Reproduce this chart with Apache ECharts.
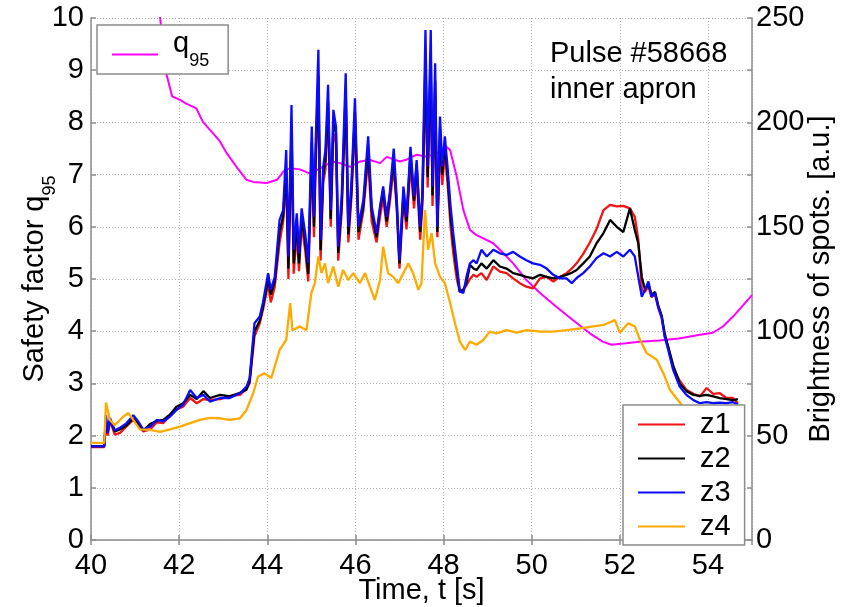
<!DOCTYPE html>
<html>
<head>
<meta charset="utf-8">
<title>Pulse #58668 – q95 and spot brightness</title>
<script src="https://cdn.jsdelivr.net/npm/echarts@6.0.0/dist/echarts.min.js"></script>
<style>
  html, body { margin: 0; padding: 0; background: #fff; }
  #chart { width: 845px; height: 607px; }
</style>
</head>
<body>
<div id="chart"></div>
<script>
// Time base shared by the z1..z3 brightness traces [s]
const tZ = [40.00,40.30,40.34,40.38,40.43,40.54,40.66,40.81,40.96,41.07,
  41.19,41.34,41.49,41.64,41.79,41.94,42.09,42.25,42.40,42.55,
  42.70,42.93,43.15,43.38,43.53,43.60,43.71,43.83,43.90,44.02,
  44.08,44.17,44.28,44.36,44.43,44.48,44.55,44.60,44.67,44.72,
  44.78,44.86,44.93,45.01,45.06,45.10,45.16,45.21,45.27,45.32,
  45.38,45.44,45.50,45.56,45.61,45.69,45.78,45.84,45.91,45.99,
  46.07,46.18,46.29,46.37,46.48,46.56,46.63,46.71,46.78,46.87,
  46.94,47.00,47.09,47.16,47.25,47.33,47.39,47.47,47.52,47.59,
  47.64,47.71,47.75,47.81,47.86,47.92,47.97,48.03,48.09,48.16,
  48.22,48.30,48.37,48.45,48.52,48.60,48.68,48.75,48.86,48.98,
  49.13,49.28,49.43,49.58,49.73,49.88,50.03,50.19,50.34,50.49,
  50.64,50.79,50.91,51.02,51.17,51.32,51.47,51.63,51.78,51.93,
  52.08,52.23,52.34,52.42,52.50,52.57,52.65,52.72,52.80,52.87,
  52.95,53.02,53.10,53.21,53.36,53.51,53.67,53.82,53.97,54.12,
  54.27,54.42,54.57,54.68];

// Brightness of spots, zone 1 [a.u.]
const z1 = [44.5,44.5,56.3,50.0,57.0,50.5,51.3,54.5,57.5,55.0,
  52.0,53.0,56.3,56.0,59.5,62.5,63.8,68.0,65.5,67.5,
  67.0,67.5,69.0,69.5,72.5,75.0,97.5,103.8,110.0,122.5,
  113.8,121.3,142.5,152.5,172.5,125.0,192.5,127.5,147.5,128.8,
  151.3,138.8,123.8,185.0,145.0,180.0,215.0,133.8,171.3,177.5,
  205.0,150.0,195.0,190.0,133.8,157.5,210.0,142.5,163.8,200.0,
  143.8,157.5,182.5,152.5,142.5,155.0,163.8,150.0,161.3,178.8,
  157.5,130.0,162.5,148.8,180.0,158.8,175.0,143.8,160.0,220.0,
  168.8,225.0,160.0,212.5,145.0,190.0,170.0,185.0,171.3,150.0,
  137.5,125.0,118.8,119.8,122.0,125.0,127.0,126.0,127.8,124.5,
  131.0,128.5,127.8,125.3,123.0,121.3,120.5,125.3,126.0,123.8,
  126.0,127.8,130.0,132.5,137.0,142.5,148.8,158.0,160.5,159.8,
  160.0,158.8,154.8,143.8,119.8,118.8,121.3,116.3,117.5,111.3,
  106.3,97.5,92.0,82.5,76.3,72.0,70.0,68.8,72.8,70.0,
  70.3,68.0,68.0,65.5];

// Brightness of spots, zone 2 [a.u.]
const z2 = [45.0,45.0,57.5,52.5,57.5,52.0,53.0,55.0,58.3,55.5,
  52.5,55.5,57.0,57.5,60.0,63.8,65.5,69.5,67.5,71.3,
  68.0,69.5,68.8,70.5,72.0,76.3,100.0,105.0,111.3,125.0,
  117.5,123.8,147.5,155.0,177.5,130.0,197.5,132.5,152.5,132.5,
  155.0,142.5,127.5,190.0,150.0,185.0,222.5,138.8,175.0,182.5,
  210.0,153.8,200.0,195.0,137.5,161.3,215.0,146.3,167.5,205.0,
  147.5,160.0,187.5,157.5,145.0,158.8,167.5,152.5,165.0,182.5,
  160.0,132.5,166.3,152.5,185.0,162.5,180.0,147.5,163.8,230.0,
  173.8,232.5,165.0,220.0,147.5,197.5,175.0,190.0,175.0,155.0,
  142.5,128.8,118.8,120.0,123.0,131.8,130.0,129.3,132.5,130.0,
  134.0,131.0,130.0,127.8,127.0,126.0,125.3,127.0,126.0,125.3,
  126.0,127.0,128.0,129.3,132.5,135.8,142.0,147.0,153.3,150.0,
  147.5,158.8,148.5,142.0,126.0,120.0,122.5,117.5,118.8,112.5,
  107.5,98.8,92.5,83.8,75.0,71.3,69.5,69.0,69.5,68.8,
  68.0,67.5,67.0,67.5];

// Brightness of spots, zone 3 [a.u.]
const z3 = [44.8,44.8,59.8,51.3,58.5,52.5,53.8,56.0,59.8,56.8,
  52.8,54.3,57.5,56.8,59.0,62.3,64.8,71.8,68.0,69.5,
  66.3,68.0,68.0,70.3,73.5,77.5,103.8,107.0,113.5,127.8,
  119.8,126.0,153.3,158.0,186.8,135.8,208.3,139.0,156.5,137.3,
  158.8,147.0,132.5,198.0,154.8,191.5,234.8,143.8,178.8,186.8,
  218.0,158.0,206.0,198.0,140.5,165.3,223.5,150.0,171.0,211.5,
  150.0,162.8,193.3,159.8,147.0,159.8,169.3,154.8,166.0,187.5,
  162.8,134.0,169.3,154.8,188.3,164.5,182.0,150.0,166.0,244.3,
  178.8,244.3,169.3,228.3,150.0,202.8,178.8,193.3,178.8,159.8,
  147.0,132.5,119.0,118.3,126.0,132.5,134.0,132.5,139.0,135.8,
  139.0,137.3,136.5,138.0,135.8,134.0,132.5,131.8,130.0,127.0,
  125.3,125.3,123.0,125.5,127.8,131.0,135.0,137.3,135.8,138.0,
  135.8,139.0,135.8,126.0,116.5,119.8,123.8,116.5,118.3,111.8,
  107.0,97.3,91.0,81.5,73.5,69.5,67.0,65.5,66.0,65.5,
  65.8,65.5,66.0,65.0];

// Zone 4 has its own sampling
const tZ4 = [40.00,40.30,40.34,40.43,40.54,40.73,40.85,40.96,41.11,41.34,
  41.57,41.79,42.02,42.25,42.47,42.70,42.93,43.15,43.38,43.53,
  43.68,43.79,43.94,44.09,44.28,44.43,44.52,44.57,44.74,44.89,
  45.00,45.08,45.16,45.23,45.31,45.38,45.50,45.61,45.72,45.84,
  45.95,46.10,46.22,46.33,46.44,46.56,46.63,46.74,46.86,46.97,
  47.09,47.20,47.31,47.43,47.50,47.58,47.65,47.73,47.81,47.92,
  48.03,48.15,48.26,48.37,48.49,48.60,48.75,48.90,49.05,49.20,
  49.43,49.66,49.88,50.19,50.49,50.79,51.10,51.40,51.63,51.89,
  52.00,52.19,52.34,52.46,52.61,52.84,52.99,53.14,53.29,53.44,
  53.62];
const z4 = [46.5,46.5,65.8,57.5,55.0,59.0,60.8,57.5,53.0,52.8,
  51.8,53.0,54.3,56.0,57.5,58.5,58.3,57.5,58.3,62.3,
  70.3,78.3,79.8,77.5,91.0,95.8,113.5,100.5,102.3,100.5,
  118.3,123.0,135.8,127.8,132.5,123.0,131.0,121.3,129.3,124.5,
  127.8,123.0,127.8,121.3,115.0,124.5,140.5,127.8,126.0,123.0,
  127.8,132.5,127.8,119.8,123.0,158.0,139.0,147.0,132.5,126.0,
  123.0,113.5,103.8,95.0,91.0,95.0,93.5,95.8,99.8,99.0,
  100.5,99.3,100.5,99.8,99.8,100.5,101.3,102.3,103.0,105.3,
  99.3,103.8,102.3,95.8,89.5,86.3,79.8,71.8,67.8,63.8,
  60.0];

// Safety factor q95
const tQ = [41.45,41.57,41.69,41.84,42.02,42.16,42.39,42.54,42.77,42.93,
  43.08,43.30,43.53,43.68,43.99,44.22,44.40,44.52,44.74,44.97,
  45.20,45.47,45.65,45.88,46.10,46.33,46.56,46.71,47.01,47.17,
  47.39,47.62,47.92,48.07,48.15,48.30,48.45,48.60,48.75,49.12,
  49.28,49.58,49.88,50.19,50.56,50.94,51.32,51.61,51.81,52.14,
  52.44,52.89,53.34,53.82,54.11,54.34,54.57,54.80,55.00];
const q95 = [10.6,10.0,9.0,8.5,8.43,8.36,8.27,8.01,7.79,7.63,
  7.41,7.15,6.90,6.86,6.84,6.90,7.09,7.12,7.10,7.02,
  7.12,7.25,7.22,7.15,7.25,7.28,7.22,7.34,7.25,7.29,
  7.38,7.34,7.44,7.53,7.47,6.96,6.32,5.94,5.84,5.69,
  5.56,5.30,4.98,4.73,4.47,4.21,3.96,3.80,3.74,3.77,
  3.80,3.82,3.86,3.93,3.97,4.09,4.28,4.50,4.69];

const FONT = '"Liberation Sans", Arial, Helvetica, sans-serif';
const AXIS_GREY = '#8c8c8c';
const GRID_GREY = '#b4b4b4';

const pairs = (t, v) => t.map((x, i) => [x, v[i]]);

const chart = echarts.init(document.getElementById('chart'), null, { renderer: 'canvas' });

const tickStyle = { inside: true, length: 5, lineStyle: { color: AXIS_GREY, width: 1.5 } };
const lineStyleOf = (c, w) => ({ color: c, width: w });

const traceSeries = (name, t, v, color) => ({
  name, type: 'line', xAxisIndex: 0, yAxisIndex: 1,
  data: pairs(t, v), showSymbol: false, symbol: 'none',
  lineStyle: lineStyleOf(color, 2.3), itemStyle: { color },
  emphasis: { disabled: true }
});

chart.setOption({
  animation: false,
  backgroundColor: '#ffffff',
  textStyle: { fontFamily: FONT },
  grid: { left: 91, right: 93, top: 18, bottom: 67, containLabel: false, outerBoundsMode: 'none' },
  title: {
    text: 'Pulse #58668\ninner apron',
    left: 550, top: 36, padding: 0,
    textStyle: { fontFamily: FONT, fontSize: 29, fontWeight: 'normal', color: '#000', lineHeight: 36 }
  },
  legend: [
    {
      data: ['q95'], left: 97, top: 25, orient: 'vertical',
      padding: [4, 19, 4, 15], icon: 'rect', itemWidth: 46, itemHeight: 2,
      backgroundColor: '#fff', borderColor: AXIS_GREY, borderWidth: 1.5, borderRadius: 0,
      selectedMode: false,
      formatter: () => '{m|q}{sub|95}',
      textStyle: {
        color: '#000', fontFamily: FONT,
        rich: {
          m: { fontSize: 29, fontFamily: FONT, color: '#000', verticalAlign: 'top', padding: [0, 0, 22, 10] },
          sub: { fontSize: 18, fontFamily: FONT, color: '#000', verticalAlign: 'top', padding: [23, 0, 0, 0] }
        }
      }
    },
    {
      data: ['z1', 'z2', 'z3', 'z4'], left: 623, top: 405, orient: 'vertical',
      padding: [5, 14, 4, 15], icon: 'rect', itemWidth: 47, itemHeight: 2, itemGap: 5,
      backgroundColor: '#fff', borderColor: AXIS_GREY, borderWidth: 1.5, borderRadius: 0,
      selectedMode: false,
      textStyle: { fontSize: 29, fontFamily: FONT, color: '#000', lineHeight: 26, padding: [0, 0, 0, 10] }
    }
  ],
  xAxis: [
    {
      type: 'value', min: 40, max: 55, interval: 2, position: 'bottom',
      name: 'Time, t [s]', nameLocation: 'middle', nameGap: 36, nameMoveOverlap: false,
      nameTextStyle: { fontSize: 29, color: '#000', fontFamily: FONT },
      axisLine: { show: true, lineStyle: { color: AXIS_GREY, width: 1.5 } },
      axisTick: tickStyle,
      axisLabel: { fontSize: 29, color: '#000', margin: 11, showMaxLabel: false, fontFamily: FONT },
      splitLine: { show: true, lineStyle: { color: GRID_GREY, width: 1, type: [1, 2] } }
    },
    {
      type: 'value', min: 40, max: 55, interval: 2, position: 'top',
      axisLine: { show: false }, axisTick: tickStyle,
      axisLabel: { show: false }, splitLine: { show: false }
    }
  ],
  yAxis: [
    {
      type: 'value', min: 0, max: 10, interval: 1, position: 'left',
      name: '{m|Safety factor q}{sub|95}', nameLocation: 'middle', nameGap: 32, nameMoveOverlap: false,
      nameTextStyle: {
        color: '#000', fontFamily: FONT,
        rich: {
          m: { fontSize: 29, fontFamily: FONT, color: '#000', verticalAlign: 'top' },
          sub: { fontSize: 18, fontFamily: FONT, color: '#000', verticalAlign: 'top', padding: [21, 0, 0, 0] }
        }
      },
      axisLine: { show: true, lineStyle: { color: AXIS_GREY, width: 1.5 } },
      axisTick: tickStyle,
      axisLabel: { fontSize: 29, color: '#000', margin: 7, fontFamily: FONT },
      splitLine: { show: true, lineStyle: { color: GRID_GREY, width: 1, type: [1, 2] } }
    },
    {
      type: 'value', min: 0, max: 250, interval: 25, position: 'right',
      name: 'Brightness of spots. [a.u.]', nameLocation: 'middle', nameGap: 54, nameMoveOverlap: false,
      nameTextStyle: { fontSize: 29, color: '#000', fontFamily: FONT },
      axisLine: { show: true, lineStyle: { color: AXIS_GREY, width: 1.5 } },
      axisTick: tickStyle,
      axisLabel: {
        fontSize: 29, color: '#000', margin: 4, fontFamily: FONT,
        formatter: v => (v % 50 === 0 ? String(v) : '')
      },
      splitLine: { show: false }
    }
  ],
  series: [
    {
      name: 'q95', type: 'line', xAxisIndex: 0, yAxisIndex: 0,
      data: pairs(tQ, q95), showSymbol: false, symbol: 'none',
      lineStyle: lineStyleOf('#ff00ff', 2), itemStyle: { color: '#ff00ff' },
      emphasis: { disabled: true }
    },
    traceSeries('z1', tZ, z1, '#f01414'),
    traceSeries('z2', tZ, z2, '#000000'),
    traceSeries('z3', tZ, z3, '#0a0aff'),
    traceSeries('z4', tZ4, z4, '#ffaa00')
  ]
});
</script>
</body>
</html>
